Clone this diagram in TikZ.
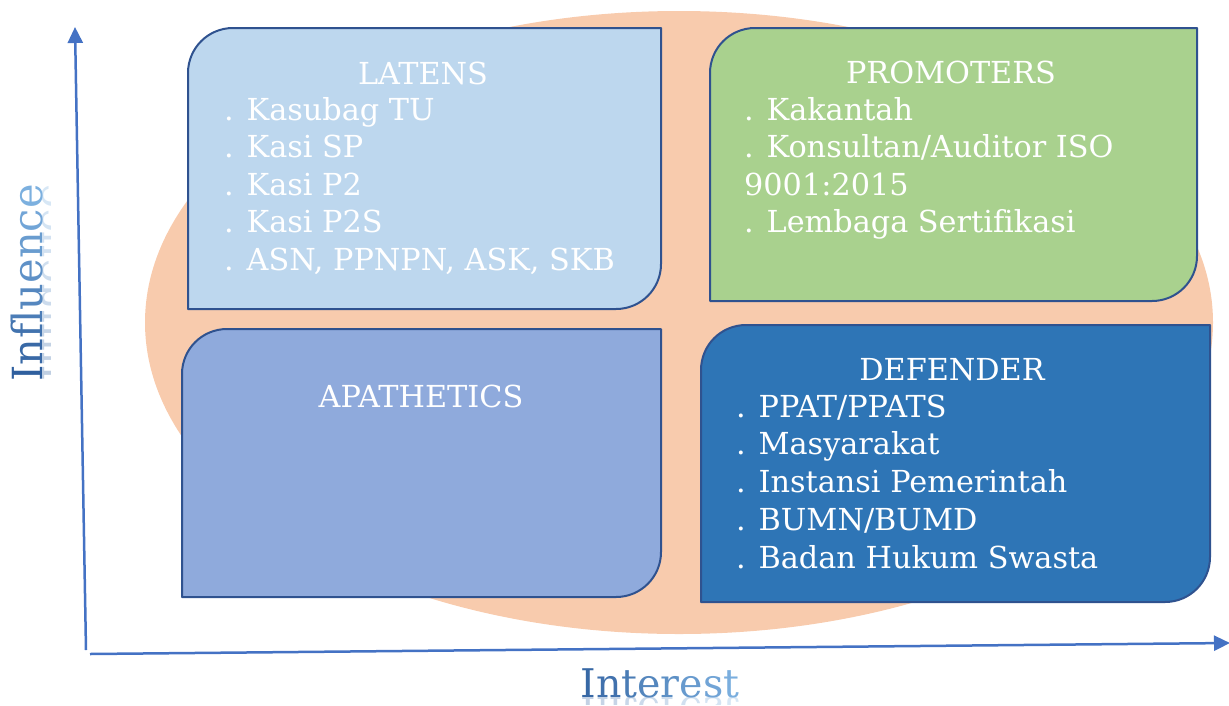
\documentclass[tikz,border=0pt]{standalone}
\usepackage{fontspec}
\setmainfont[Ligatures=CommonOff]{DejaVu Serif}
\usetikzlibrary{arrows.meta}

\definecolor{blobfill}{HTML}{F8CBAD}
\definecolor{edgeblue}{HTML}{2F528F}
\definecolor{latfill}{HTML}{BDD7EE}
\definecolor{profill}{HTML}{A9D18E}
\definecolor{apafill}{HTML}{8FAADC}
\definecolor{deffill}{HTML}{2E75B6}
\definecolor{axisblue}{HTML}{4472C4}
\definecolor{labdark}{HTML}{2F5F9E}
\definecolor{lablight}{HTML}{7FB3E2}

% quadrant panel: rounded top-left and bottom-right corners
% #1 style, #2 left, #3 top, #4 right, #5 bottom (y grows downwards)
\newcommand\quadpanel[5]{%
  \draw[#1] (#2,#5) -- (#2,#3+45)
    .. controls (#2,#3+20.1) and (#2+20.1,#3) .. (#2+45,#3)
    -- (#4,#3) -- (#4,#5-45)
    .. controls (#4,#5-20.1) and (#4-20.1,#5) .. (#4-45,#5)
    -- cycle;}

\newcommand\influenceword{%
  \textcolor{labdark!100!lablight}{I}%
  \textcolor{labdark!88!lablight}{n}%
  \textcolor{labdark!76!lablight}{f}%
  \textcolor{labdark!64!lablight}{l}%
  \textcolor{labdark!52!lablight}{u}%
  \textcolor{labdark!40!lablight}{e}%
  \textcolor{labdark!28!lablight}{n}%
  \textcolor{labdark!16!lablight}{c}%
  \textcolor{labdark!4!lablight}{e}}
\newcommand\interestword{%
  \textcolor{labdark!90!lablight}{I}%
  \textcolor{labdark!78!lablight}{n}%
  \textcolor{labdark!66!lablight}{t}%
  \textcolor{labdark!54!lablight}{e}%
  \textcolor{labdark!42!lablight}{r}%
  \textcolor{labdark!30!lablight}{e}%
  \textcolor{labdark!18!lablight}{s}%
  \textcolor{labdark!6!lablight}{t}}

\tikzset{
  panel/.style={draw=edgeblue, line width=2pt, line join=round},
  boxtext/.style={text=white, inner sep=0pt, font=\fontsize{30.3}{37.7}\selectfont},
  axisline/.style={draw=axisblue, line width=2.5pt,
    -{Triangle[length=16pt,width=15pt]}},
  xlabelfont/.style={inner sep=0pt, font=\fontsize{39.5}{42}\selectfont},
  ylabelfont/.style={inner sep=0pt, font=\fontsize{41.5}{44}\selectfont},
}

\begin{document}
\begin{tikzpicture}[x=1pt,y=-1pt]
\useasboundingbox (0,0) rectangle (1229,705);

% background blob
\fill[blobfill] (679,322.5) ellipse [x radius=534, y radius=311.5];

% quadrants
\quadpanel{panel, fill=latfill}{188}{28}{661}{309}
\quadpanel{panel, fill=profill}{710}{28}{1197}{301}
\quadpanel{panel, fill=apafill}{182}{329}{661}{597}
\quadpanel{panel, fill=deffill}{701}{325}{1210}{602}

% LATENS
\node[boxtext, anchor=base] (lattitle) at (423,84) {LATENS};
\foreach \t [count=\i] in {{. Kasubag TU},{. Kasi SP},{. Kasi P2},{. Kasi P2S},{. ASN, PPNPN, ASK, SKB}}
  \node[boxtext, anchor=base west] (lat\i) at (224,{120+37.65*(\i-1)}) {\t};

% PROMOTERS
\node[boxtext, anchor=base] (protitle) at (951,83) {PROMOTERS};
\foreach \t [count=\i] in {{. Kakantah},{. Konsultan/Auditor ISO},{9001:2015},{. Lembaga Sertifikasi}}
  \node[boxtext, anchor=base west] (pro\i) at (744,{120+37.65*(\i-1)}) {\t};

% APATHETICS
\node[boxtext, anchor=base] (apatitle) at (421,407) {APATHETICS};

% DEFENDER
\node[boxtext, anchor=base] (deftitle) at (952,380) {DEFENDER};
\foreach \t [count=\i] in {{. PPAT/PPATS},{. Masyarakat},{. Instansi Pemerintah},{. BUMN/BUMD},{. Badan Hukum Swasta}}
  \node[boxtext, anchor=base west] (def\i) at (736,{417+37.75*(\i-1)}) {\t};

% axes
\coordinate (yfoot) at (86,650);
\coordinate (ytip) at (75,27);
\coordinate (xfoot) at (90,654);
\coordinate (xtip) at (1230,643);
\draw[axisline] (yfoot) -- (ytip);
\draw[axisline] (xfoot) -- (xtip);

% axis labels with a faint mirror image
\node[xlabelfont, anchor=base] (xlabel) at (660,697) {\interestword};
\begin{scope}
  \clip (560,697) rectangle (760,704);
  \node[xlabelfont, anchor=base, yscale=-1, opacity=0.3] (xlabelmirror) at (660,697) {\interestword};
\end{scope}
\node[ylabelfont, anchor=base, rotate=90] (ylabel) at (42,283) {\influenceword};
\begin{scope}
  \clip (42,170) rectangle (50,400);
  \node[ylabelfont, anchor=base, rotate=90, yscale=-1, opacity=0.3] (ylabelmirror) at (42,283) {\influenceword};
\end{scope}
\end{tikzpicture}
\end{document}
